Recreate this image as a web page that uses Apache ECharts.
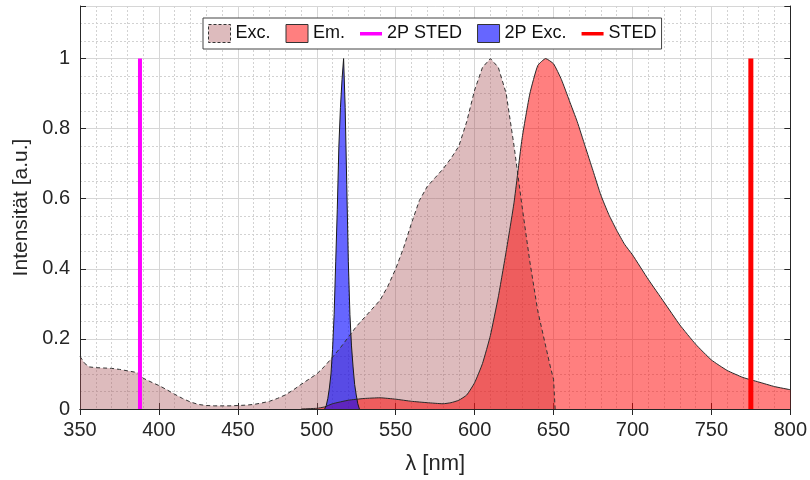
<!DOCTYPE html>
<html>
<head>
<meta charset="utf-8">
<script src="https://cdn.jsdelivr.net/npm/echarts@6/dist/echarts.min.js"></script>
<style>
  html, body { margin: 0; padding: 0; background: #fff; }
  #main { width: 810px; height: 480px; }
</style>
</head>
<body>
<div id="main"></div>
<script>
// spectra (wavelength in nm, intensity normalised)
const excNm = [350, 353, 356, 360, 365, 370, 375, 380, 385, 388, 390, 395, 400, 405, 410, 415, 420, 425, 430, 435,
    440, 445, 450, 455, 460, 465, 470, 475, 480, 485, 490, 495, 500, 505, 510, 515, 520, 525, 530, 535,
    540, 545, 550, 555, 560, 565, 570, 575, 580, 585, 590, 595, 600, 605, 610, 615, 620, 625, 630, 635,
    640, 645, 648, 650, 651];
const excInt = [0.15, 0.13, 0.12, 0.118, 0.117, 0.116, 0.113, 0.109, 0.105, 0.1, 0.088, 0.077, 0.067, 0.055, 0.042, 0.03, 0.02, 0.013, 0.01, 0.009,
    0.009, 0.009, 0.01, 0.011, 0.013, 0.017, 0.022, 0.03, 0.04, 0.054, 0.07, 0.085, 0.1, 0.122, 0.148, 0.175, 0.205, 0.235, 0.26, 0.285,
    0.31, 0.35, 0.4, 0.46, 0.53, 0.595, 0.635, 0.66, 0.685, 0.715, 0.75, 0.82, 0.91, 0.975, 1.0, 0.975, 0.9, 0.75, 0.58, 0.42,
    0.28, 0.18, 0.12, 0.085, 0];

const emNm = [490, 500, 505, 510, 520, 530, 540, 550, 560, 570, 580, 585, 590, 595, 600, 605, 610, 615, 620, 625,
    630, 635, 640, 645, 650, 655, 660, 665, 670, 675, 680, 685, 690, 695, 700, 710, 720, 730, 740, 750,
    760, 770, 780, 790, 800];
const emInt = [0, 0.002, 0.006, 0.015, 0.025, 0.03, 0.032, 0.028, 0.022, 0.018, 0.015, 0.018, 0.025, 0.04, 0.075, 0.13, 0.21, 0.32, 0.45, 0.59,
    0.77, 0.9, 0.98, 1.0, 0.985, 0.94, 0.88, 0.82, 0.75, 0.68, 0.61, 0.555, 0.51, 0.47, 0.44, 0.37, 0.305, 0.24, 0.185, 0.14,
    0.11, 0.09, 0.077, 0.064, 0.055];

const tpNm = [505, 506, 507, 508, 509, 510, 511, 512, 513, 514, 515, 516, 517, 518, 519, 520, 521, 522, 523, 524, 525, 526, 527];
const tpInt = [0, 0.01, 0.03, 0.06, 0.1, 0.17, 0.27, 0.42, 0.57, 0.75, 0.86, 0.94, 1.0, 0.86, 0.64, 0.42, 0.27, 0.18, 0.12, 0.07, 0.04, 0.015, 0];

const tpStedNm = 388;
const stedNm = 775;
const laserHeight = [0, 1];

const xTicks = { min: 350, max: 800, step: 50 };
const yTicks = { min: 0, max: 1.15, step: 0.2 };

function zip(xs, ys) {
    return xs.map((x, i) => [x, ys[i]]);
}

const axisColor = '#262626';
const font = 'Liberation Sans, Arial, sans-serif';
// thin bar inside a full-size box, so the legend icon stays a line
const lineIcon = 'path://M0,0h0.1v0.1H0z M0,7.5h22v3.5H0z M21.9,17.9h0.1V18h-0.1z';

function xAxisBase(pos) {
    return {
        type: 'value', position: pos,
        min: xTicks.min, max: xTicks.max, interval: xTicks.step,
        axisLine: { show: true, lineStyle: { color: axisColor, width: 1 } },
        axisTick: { inside: true, length: 6, lineStyle: { color: axisColor } },
        minorTick: { show: false, splitNumber: 5 }
    };
}
function yAxisBase(pos) {
    return {
        type: 'value', position: pos,
        min: yTicks.min, max: yTicks.max, interval: yTicks.step,
        axisLine: { show: true, lineStyle: { color: axisColor, width: 1 } },
        axisTick: { inside: true, length: 6, lineStyle: { color: axisColor } },
        minorTick: { show: false, splitNumber: 4 }
    };
}

const majorGrid = { show: true, lineStyle: { color: '#d6d6d6', width: 1 } };
const minorGrid = { show: true, lineStyle: { color: '#d2d2d2', type: [2, 2], width: 1 } };

let bottomX = Object.assign(xAxisBase('bottom'), {
    name: 'λ [nm]', nameLocation: 'middle', nameGap: 44,
    nameTextStyle: { fontSize: 22, color: axisColor, fontFamily: font },
    axisLabel: { fontSize: 20, color: axisColor, fontFamily: font, margin: 11 },
    splitLine: majorGrid,
    minorSplitLine: minorGrid
});
let topX = Object.assign(xAxisBase('top'), {
    axisLabel: { show: false }, splitLine: { show: false }
});
let leftY = Object.assign(yAxisBase('left'), {
    name: 'Intensität [a.u.]', nameLocation: 'middle', nameGap: 47,
    nameTextStyle: { fontSize: 21, color: axisColor, fontFamily: font },
    axisLabel: {
        fontSize: 20, color: axisColor, fontFamily: font, margin: 10,
        formatter: v => (v > 1.01 ? '' : String(+v.toFixed(1)))
    },
    splitLine: majorGrid,
    minorSplitLine: minorGrid
});
let rightY = Object.assign(yAxisBase('right'), {
    axisLabel: { show: false }, splitLine: { show: false }
});

const excFill = 'rgba(170, 85, 90, 0.4)';
const emFill = 'rgba(255, 0, 0, 0.5)';
const tpFill = 'rgba(0, 0, 255, 0.6)';

let options = {
    animation: false,
    backgroundColor: '#fff',
    grid: { left: 80, right: 18, top: 6, bottom: 68, show: false },
    legend: {
        left: 203, top: 18,
        padding: [6, 5], itemGap: 15, itemWidth: 22, itemHeight: 18,
        backgroundColor: '#fff', borderColor: '#444', borderWidth: 1, borderRadius: 0,
        textStyle: { fontSize: 18, color: '#111', fontFamily: font },
        data: [
            { name: 'Exc.', icon: 'rect', itemStyle: { color: excFill, borderColor: '#333', borderWidth: 1, borderType: [3, 2] } },
            { name: 'Em.', icon: 'rect', itemStyle: { color: emFill, borderColor: '#333', borderWidth: 1 } },
            { name: '2P STED', icon: lineIcon, itemStyle: { color: '#ff00ff', borderWidth: 0 } },
            { name: '2P Exc.', icon: 'rect', itemStyle: { color: tpFill, borderColor: '#333', borderWidth: 1 } },
            { name: 'STED', icon: lineIcon, itemStyle: { color: '#ff0000', borderWidth: 0 } }
        ]
    },
    xAxis: [bottomX, topX],
    yAxis: [leftY, rightY],
    series: [
        {
            name: 'Exc.', type: 'line', data: zip(excNm, excInt),
            showSymbol: false, symbol: 'none',
            itemStyle: { color: excFill },
            lineStyle: { color: '#333', width: 1, type: [4, 3] },
            areaStyle: { color: excFill, opacity: 1 }
        },
        {
            name: 'Em.', type: 'line', data: zip(emNm, emInt),
            showSymbol: false, symbol: 'none', smooth: 0.15,
            itemStyle: { color: emFill },
            lineStyle: { color: '#2a2a2a', width: 1 },
            areaStyle: { color: emFill, opacity: 1 }
        },
        {
            name: '2P STED', type: 'line',
            data: laserHeight.map(v => [tpStedNm, v]),
            showSymbol: false, symbol: 'none',
            itemStyle: { color: '#ff00ff' },
            lineStyle: { color: '#ff00ff', width: 4 }
        },
        {
            name: '2P Exc.', type: 'line', data: zip(tpNm, tpInt),
            showSymbol: false, symbol: 'none',
            itemStyle: { color: tpFill },
            lineStyle: { color: '#1a1a1a', width: 1 },
            areaStyle: { color: tpFill, opacity: 1 }
        },
        {
            name: 'STED', type: 'line',
            data: laserHeight.map(v => [stedNm, v]),
            showSymbol: false, symbol: 'none',
            itemStyle: { color: '#ff0000' },
            lineStyle: { color: '#ff0000', width: 5 }
        }
    ]
};

let myChart = echarts.init(document.getElementById('main'), null, { renderer: 'canvas' });
myChart.setOption(options);
</script>
</body>
</html>
